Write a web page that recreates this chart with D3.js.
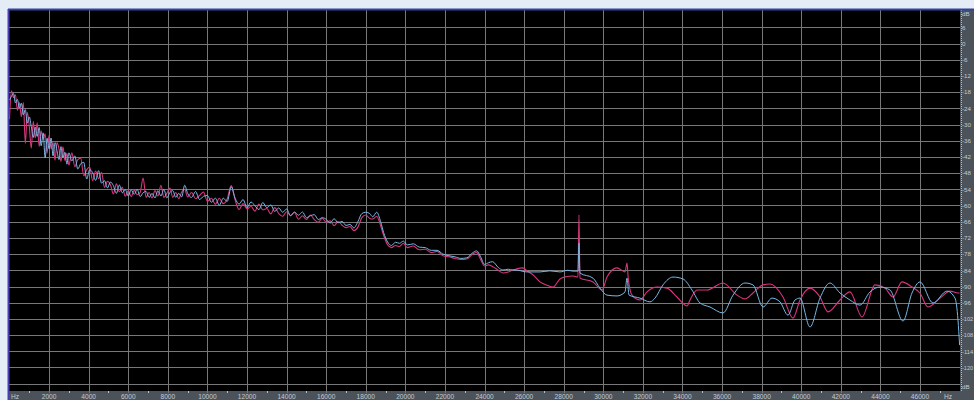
<!DOCTYPE html>
<html>
<head>
<meta charset="utf-8">
<script src="https://cdn.jsdelivr.net/npm/d3@7"></script>
<style>
  html, body { margin: 0; padding: 0; background: #e4ecf6; overflow: hidden; }
  svg { display: block; }
  .lbl { font-family: "Liberation Sans", Arial, sans-serif; font-size: 6.6px; fill: #c3cbd3; }
</style>
</head>
<body>
<div id="chart"></div>
<script>
// tick labels
const hzTicks = [2000, 4000, 6000, 8000, 10000, 12000, 14000, 16000, 18000, 20000, 22000, 24000,
  26000, 28000, 30000, 32000, 34000, 36000, 38000, 40000, 42000, 44000, 46000]
const dbTicks = [6, 0, -6, -12, -18, -24, -30, -36, -42, -48, -54, -60, -66, -72, -78, -84, -90,
  -96, -102, -108, -114, -120, -126]

// [Hz, dB]
const pinkSeries = [
  [0,-28],[100,-17.5],[200,-20],[300,-19],[400,-24.7],[500,-21.9],[600,-27.1],[700,-21.9],[800,-37],
  [900,-25.5],[1000,-30.7],[1100,-38.8],[1200,-28.8],[1300,-35],[1400,-29.4],[1500,-38.1],[1600,-32.4],
  [1700,-35.6],[1800,-33.4],[1900,-40.6],[2000,-34],[2100,-39],[2200,-36.6],[2300,-43.2],[2400,-36.7],
  [2500,-39],[2600,-43.7],[2700,-38.3],[2800,-43.3],[2900,-40.7],[3000,-45],
  [3150,-40.5],[3300,-45.6],[3450,-43],[3600,-42.5],[3750,-49],[3900,-46.7],[4050,-45.8],[4200,-50.8],
  [4350,-47.2],[4500,-50.1],[4650,-47.7],[4800,-53.3],[4950,-51],[5100,-52.3],[5250,-55.7],[5400,-52],
  [5550,-54.9],[5700,-53.3],[5850,-56.6],[6000,-54.5],[6150,-56.7],[6300,-54.4],[6450,-56],[6600,-55.2],
  [6750,-49.8],[6900,-57],[7050,-55.2],[7200,-57.2],[7350,-54.5],[7500,-56.5],[7650,-52.5],[7800,-57],
  [7950,-55.5],[8100,-53.5],[8250,-57],[8400,-55.2],[8550,-57.5],[8700,-55],[8850,-54],[9000,-56.8],
  [9200,-55.2],[9400,-57.5],[9600,-56.3],[9800,-55],[10000,-58.5],[10200,-57.3],[10400,-59.6],[10600,-57.3],
  [10800,-59.3],[11000,-57.5],[11200,-52.6],[11400,-58],[11600,-61.5],[11800,-59.3],[12000,-61.3],
  [12200,-60.3],[12400,-62.1],[12600,-59.5],[12800,-61.6],[13000,-61.1],[13200,-63.1],[13400,-60.8],
  [13600,-63],[13800,-64],[14000,-62.3],[14200,-63.7],[14400,-62.6],[14600,-65.1],[14800,-63.8],
  [15000,-65.2],[15200,-63.5],[15400,-65.2],[15600,-66.2],[15800,-64.7],[16000,-66.2],[16200,-65.7],
  [16400,-67.5],[16600,-65.9],[16800,-67.3],[17000,-68.2],[17200,-67.8],[17400,-69.3],[17600,-68.0],
  [17800,-64.5],[18000,-63.5],[18200,-64.8],[18350,-65.0],[18550,-64.0],[18750,-67.5],[18900,-71.0],
  [19100,-74.5],[19300,-75.6],[19500,-74.8],[19700,-75.2],[19900,-74.0],[20100,-75.6],[20400,-75.0],
  [20700,-76.4],[21000,-76.2],[21300,-77.4],[21600,-77.0],[21900,-78.6],[22200,-79.0],[22500,-79.6],
  [22800,-80.0],[23100,-79.8],[23400,-78.0],[23600,-77.4],[23800,-80.0],[24000,-82.4],[24200,-82.0],
  [24400,-82.6],[24700,-84.0],[24930,-85.0],[25200,-84.6],[25440,-83.9],[25640,-83.4],[25940,-83.1],
  [26150,-84.2],[26450,-85.7],[26800,-88.3],[27150,-89.5],[27460,-90.2],[27810,-87.2],[28100,-86.4],
  [28470,-86.1],[28720,-86.5],[28770,-63.5],[28820,-86.9],[29480,-88.3],[29935,-91.3],[30187,-86.5],
  [30692,-83.1],[31096,-84.6],[31197,-81.3],[31260,-87.0],[31450,-93.2],[31854,-95.0],[32208,-92.0],
  [32713,-90.2],[33218,-90.6],[33723,-93.9],[34229,-97.2],[34380,-95.0],[34734,-91.3],[35239,-91.3],
  [36047,-88.7],[36754,-93.2],[37158,-94.6],[37562,-92.4],[38067,-89.4],[38421,-89.1],[39078,-93.9],
  [39583,-101.7],[39937,-95.0],[40442,-90.6],[40947,-93.9],[41351,-99.4],[41957,-95.0],[42462,-92.0],
  [43068,-101.3],[43725,-89.4],[44230,-90.6],[44634,-93.9],[45089,-88.3],[45595,-90.2],[45999,-92.4],
  [46403,-97.6],[47010,-94.3],[47515,-91.7],[47919,-92.4],[48000,-92.4]
]

const blueSeries = [
  [0,-21],[100,-19.5],[200,-18.5],[300,-22],[400,-20.7],[500,-23.9],[600,-22.1],[700,-26.4],[800,-24.5],
  [900,-29.5],[1000,-27.2],[1100,-30.8],[1200,-34.8],[1300,-31],[1400,-34.4],[1500,-31.1],[1600,-37.9],
  [1700,-33.1],[1800,-42.4],[1900,-35.1],[2000,-39],[2100,-35],[2200,-41.6],[2300,-36.7],[2400,-39.7],
  [2500,-43],[2600,-38.2],[2700,-42.3],[2800,-40.3],[2900,-44.7],[3000,-40.5],
  [3150,-43.5],[3300,-41.6],[3450,-46.5],[3600,-44.5],[3750,-44],[3900,-50.2],[4050,-46.8],[4200,-47.8],
  [4350,-50.7],[4500,-47.1],[4650,-51.7],[4800,-50.8],[4950,-53.5],[5100,-51.3],[5250,-52.7],[5400,-55.5],
  [5550,-52.4],[5700,-55.3],[5850,-54.1],[6000,-56.5],[6150,-54.2],[6300,-55.9],[6450,-54],[6600,-56.7],
  [6750,-55.3],[6900,-54.8],[7050,-57],[7200,-55.5],[7350,-57.2],[7500,-54.5],[7650,-56.5],[7800,-54],
  [7950,-57.2],[8100,-55.2],[8250,-54.5],[8400,-57],[8550,-55.5],[8700,-56.8],[8850,-52.5],[9000,-55.5],
  [9200,-57],[9400,-54.8],[9600,-57.8],[9800,-56.6],[10000,-56.3],[10200,-58.8],[10400,-57.3],[10600,-59.9],
  [10800,-57.3],[11000,-58.5],[11200,-53],[11400,-57.3],[11600,-59.5],[11800,-57.8],[12000,-60.8],
  [12200,-58.7],[12400,-60.1],[12600,-61.5],[12800,-58.9],[13000,-60.8],[13200,-59.8],[13400,-62.2],
  [13600,-60.9],[13800,-62.5],[14000,-61.3],[14200,-63.8],[14400,-62.4],[14600,-63.6],[14800,-62.4],
  [15000,-64.5],[15200,-63.8],[15400,-63.4],[15600,-65.2],[15800,-64.5],[16000,-65.1],[16200,-66.5],
  [16400,-64.9],[16600,-66.4],[16800,-65.9],[17000,-67.4],[17200,-67],[17400,-68.3],[17600,-66.0],
  [17800,-63.0],[18000,-62.5],[18200,-63.0],[18350,-64.2],[18550,-62.5],[18750,-66.0],[18900,-70.0],
  [19100,-73.5],[19300,-74.8],[19500,-73.6],[19700,-74.0],[19900,-73.2],[20100,-74.6],[20400,-74.2],
  [20700,-75.4],[21000,-75.6],[21300,-76.6],[21600,-76.6],[21900,-78.0],[22200,-78.6],[22500,-79.0],
  [22800,-79.6],[23100,-79.4],[23400,-77.5],[23600,-76.8],[23800,-79.0],[24000,-81.8],[24200,-81.2],
  [24400,-80.8],[24700,-83.0],[24930,-83.9],[25200,-83.6],[25440,-83.9],[25640,-83.9],[25940,-84.4],
  [26150,-84.6],[26450,-84.6],[26800,-84.6],[27300,-84.2],[27810,-84.6],[28200,-84.0],[28470,-84.3],
  [28720,-84.3],[28770,-73.9],[28820,-85.0],[29480,-86.9],[29833,-90.6],[30187,-93.2],[30692,-93.5],
  [31096,-92.0],[31197,-86.9],[31300,-93.2],[31854,-94.3],[32359,-95.7],[32612,-94.3],[33016,-89.4],
  [33521,-86.5],[34026,-87.2],[34481,-91.3],[34885,-96.1],[35390,-97.6],[36047,-99.8],[36552,-93.2],
  [37158,-88.7],[37562,-89.4],[38067,-97.6],[38522,-94.3],[38926,-95.7],[39330,-100.6],[39684,-95.0],
  [39937,-94.3],[40442,-105.0],[40947,-94.3],[41452,-88.7],[41957,-92.4],[42462,-95.0],[42968,-96.9],
  [43473,-92.0],[43978,-90.2],[44483,-91.3],[45140,-102.8],[45595,-92.4],[45999,-88.3],[46655,-96.1],
  [47363,-91.7],[47767,-94.3],[47919,-102.4],[48000,-111.7]
]

const W = 974, H = 400
const plot = { left: 9, top: 10, right: 960, bottom: 391 }

const svg = d3.select('#chart').append('svg')
  .attr('width', W)
  .attr('height', H)

const x = d3.scaleLinear().domain([0, 48000]).range([9.5, 959.6])
const y = d3.scaleLinear().domain([0, -126]).range([43.5, 383.7])

// plot background
svg.append('rect')
  .attr('x', plot.left).attr('y', plot.top)
  .attr('width', plot.right - plot.left).attr('height', plot.bottom - plot.top)
  .attr('fill', '#000')

// axis strips
svg.append('rect')
  .attr('x', plot.right).attr('y', plot.top)
  .attr('width', W - plot.right).attr('height', H - plot.top)
  .attr('fill', '#4b525a')
svg.append('rect')
  .attr('x', plot.left).attr('y', plot.bottom)
  .attr('width', plot.right - plot.left).attr('height', H - plot.bottom)
  .attr('fill', '#4b525a')

// grid
const grid = svg.append('g').attr('stroke', '#787878').attr('stroke-width', 1)
grid.selectAll('.vg').data(hzTicks).enter().append('line')
  .attr('x1', d => Math.round(x(d)) + 0.5).attr('x2', d => Math.round(x(d)) + 0.5)
  .attr('y1', plot.top).attr('y2', plot.bottom + 2)
grid.selectAll('.hg').data(dbTicks).enter().append('line')
  .attr('x1', plot.left).attr('x2', plot.right)
  .attr('y1', d => Math.round(y(d)) + 0.5).attr('y2', d => Math.round(y(d)) + 0.5)

// minor ticks on the Hz strip
const minor = d3.range(1000, 48000, 2000)
svg.append('g').selectAll('line').data(minor).enter().append('line')
  .attr('x1', d => Math.round(x(d)) + 0.5).attr('x2', d => Math.round(x(d)) + 0.5)
  .attr('y1', plot.bottom).attr('y2', plot.bottom + 2)
  .attr('stroke', '#b8c0c8')

// dotted scale line on the dB strip
svg.append('line')
  .attr('x1', plot.right + 1.5).attr('x2', plot.right + 1.5)
  .attr('y1', plot.top).attr('y2', plot.bottom)
  .attr('stroke', '#b8c0c8').attr('stroke-dasharray', '1,1')

// traces
const line = d3.line()
  .x(d => x(d[0]))
  .y(d => y(d[1]))
  .curve(d3.curveMonotoneX)

svg.append('clipPath').attr('id', 'plotclip').append('rect')
  .attr('x', plot.left).attr('y', plot.top)
  .attr('width', plot.right - plot.left + 1).attr('height', plot.bottom - plot.top)
const traces = svg.append('g')
  .attr('clip-path', 'url(#plotclip)')

traces.append('path').datum(pinkSeries)
  .attr('d', line)
  .attr('fill', 'none').attr('stroke', '#d8357c').attr('stroke-width', 1.1)
traces.append('path').datum(blueSeries)
  .attr('d', line)
  .attr('fill', 'none').attr('stroke', '#78b8e4').attr('stroke-width', 1)

// frame lines
svg.append('line').attr('x1', plot.left - 0.5).attr('x2', plot.left - 0.5)
  .attr('y1', plot.top - 1).attr('y2', H)
  .attr('stroke', '#4a3fb2').attr('stroke-width', 2)
svg.append('line').attr('x1', plot.left - 1).attr('x2', W)
  .attr('y1', plot.top - 0.5).attr('y2', plot.top - 0.5)
  .attr('stroke', '#33449e').attr('stroke-width', 2)

// Hz labels
const hzLabels = svg.append('g').attr('class', 'lbl')
hzLabels.selectAll('text').data(hzTicks).enter().append('text')
  .attr('x', d => x(d)).attr('y', 399)
  .attr('text-anchor', 'middle')
  .text(d => d)
hzLabels.append('text').attr('x', 11).attr('y', 399).text('Hz')
hzLabels.append('text').attr('x', 944).attr('y', 399).text('Hz')

// dB labels (squeezed so the long ones stay inside the strip)
const dbLabels = svg.append('g').attr('class', 'lbl').style('font-size', '6.2px')
dbLabels.selectAll('text').data(dbTicks.slice(0, -1)).enter().append('text')
  .attr('x', 962).attr('y', d => y(d) + 2.3)
  .each(function (d) {
    if (String(d).length > 3) {
      d3.select(this).attr('textLength', 11.2).attr('lengthAdjust', 'spacingAndGlyphs')
    }
  })
  .text(d => d)
dbLabels.append('text').attr('x', 962).attr('y', 16).text('dB')
dbLabels.append('text').attr('x', 962).attr('y', 389).text('dB')
</script>
</body>
</html>
